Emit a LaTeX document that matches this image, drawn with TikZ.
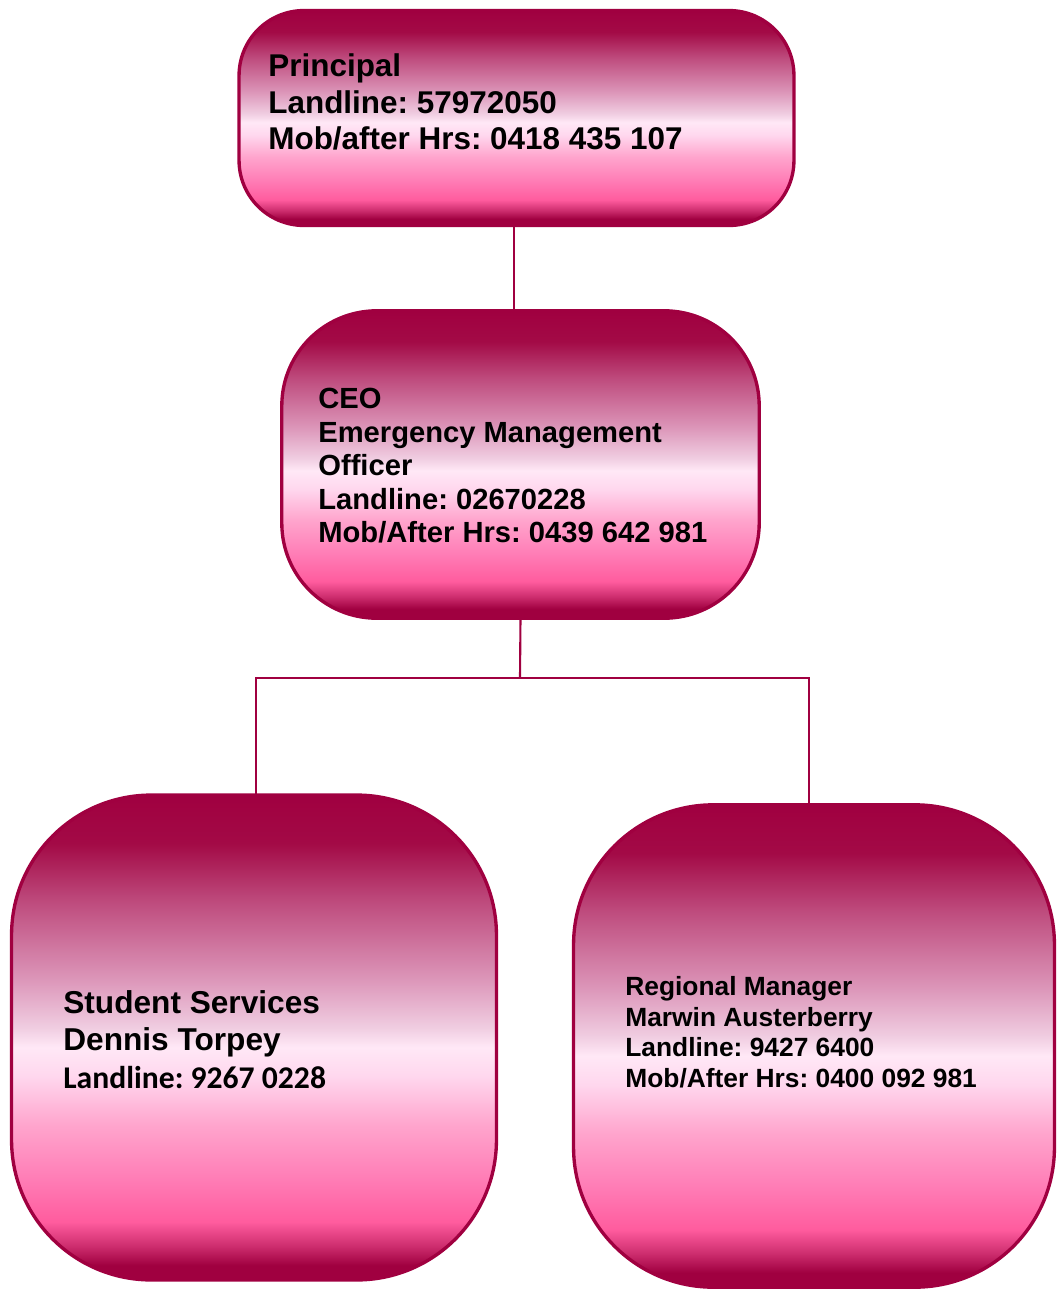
\documentclass[tikz,border=0pt]{standalone}
\usepackage{fontspec}
\setmainfont{Liberation Sans}
\newfontfamily\calibrifont{Carlito}
\usepackage{tikz}
\usetikzlibrary{positioning}
\frenchspacing

\definecolor{boxdark}{RGB}{160,0,64}
\definecolor{boxdeep}{RGB}{205,45,110}
\definecolor{boxhot}{RGB}{255,92,158}
\definecolor{boxwarm}{RGB}{255,125,182}
\definecolor{boxsoft}{RGB}{255,165,205}
\definecolor{boxblush}{RGB}{255,215,238}
\definecolor{boxpale}{RGB}{255,232,246}
\definecolor{boxrose}{RGB}{240,205,225}
\definecolor{boxmauve}{RGB}{220,150,185}
\definecolor{boxberry}{RGB}{190,75,125}
\definecolor{boxwine}{RGB}{163,10,70}

\pgfdeclareverticalshading{pinkbox}{100bp}{%
  color(0bp)=(boxdark); color(25bp)=(boxdark); color(26.5bp)=(boxdark);
  color(28.5bp)=(boxdeep);
  color(31bp)=(boxhot); color(35.5bp)=(boxwarm); color(41bp)=(boxsoft);
  color(46bp)=(boxblush); color(49bp)=(boxpale); color(51bp)=(boxrose);
  color(56bp)=(boxmauve); color(64bp)=(boxberry); color(70bp)=(boxwine);
  color(75bp)=(boxdark); color(100bp)=(boxdark)}

\begin{document}
\begin{tikzpicture}[x=0.02cm, y=-0.02cm]
        \tikzset{box/.style = {draw=boxdark, line width=1.9pt, shading=pinkbox, outer sep=0pt, inner sep=0pt}}
        \tikzset{info/.style = {anchor=north west, inner sep=0pt, align=left, font=\bfseries}}
        \tikzset{link/.style = {draw=boxdark, line width=1.2pt}}

        \useasboundingbox (0,0) rectangle (1057,1289);

        % boxes
        \node[box, minimum width=11.1cm, minimum height=4.3cm, rounded corners=1.3cm] (principal) at (516.5,118) {};
        \node[box, minimum width=9.55cm, minimum height=6.15cm, rounded corners=1.9cm] (ceo) at (520.5,464.5) {};
        \node[box, minimum width=9.7cm, minimum height=9.7cm, rounded corners=2.8cm] (student) at (254,1037.5) {};
        \node[box, minimum width=9.62cm, minimum height=9.65cm, rounded corners=2.8cm] (regional) at (814,1046) {};

        % texts
        \node[info, font=\bfseries\fontsize{17.9}{21}\selectfont] (principaltext) at (268,53)
            {Principal\\Landline: 57972050\\Mob/after Hrs: 0418 435 107};
        \node[info, font=\bfseries\fontsize{16.6}{19.1}\selectfont] (ceotext) at (318,388)
            {CEO\\Emergency Management\\Officer\\Landline: 02670228\\Mob/After Hrs: 0439 642 981};
        \node[info, font=\bfseries\fontsize{18}{21.3}\selectfont] (studenttext) at (63,990)
            {Student Services\\Dennis Torpey\\{\calibrifont\bfseries Landline: 9267 0228}};
        \node[info, font=\bfseries\fontsize{15}{17.4}\selectfont] (regionaltext) at (625,976)
            {Regional Manager\\Marwin Austerberry\\Landline: 9427 6400\\Mob/After Hrs: 0400 092 981};

        % connectors
        \coordinate (split) at (520,678);
        \draw[link] ([xshift=-0.05cm]principal.south) -- ([xshift=-0.05cm]principal.south |- ceo.north);
        \draw[link] (ceo.south) -- (split);
        \draw[link] ([xshift=0.04cm]student.north) |- (split) -| ([xshift=-0.1cm]regional.north);

\end{tikzpicture}
\end{document}
